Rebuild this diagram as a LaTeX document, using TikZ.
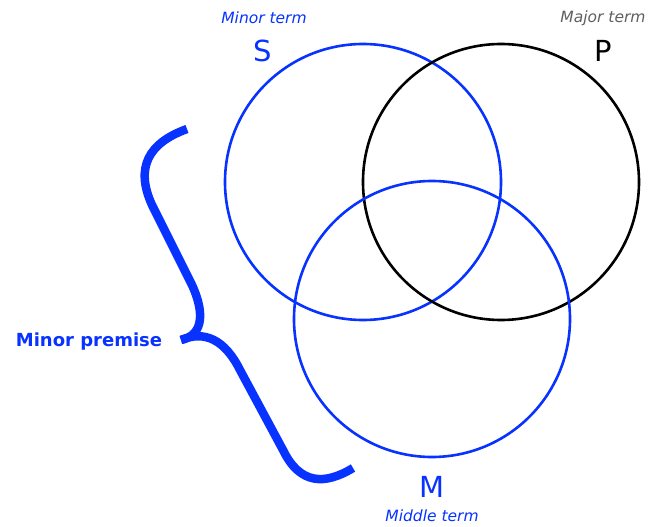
\documentclass[tikz,border=0pt]{standalone}
\usepackage{fontspec}
\setmainfont{DejaVu Sans}
\definecolor{vennblue}{RGB}{8,50,255}
\definecolor{termgray}{RGB}{95,95,95}
\usetikzlibrary{positioning}
\tikzset{
  setcircle/.style={circle, draw, line width=2.6pt, inner sep=0pt, minimum size=276pt},
  termlabel/.style={font=\itshape\fontsize{15.5}{18}\selectfont},
  letterlabel/.style={font=\fontsize{29}{34}\selectfont}
}

\begin{document}
\begin{tikzpicture}[x=1pt, y=-1pt]
    \useasboundingbox (0,0) rectangle (649,527);

    % Circles
    \node[setcircle, vennblue] (S) at (363,182) {};
    \node[setcircle, black] (P) at (501,182) {};
    \node[setcircle, vennblue] (M) at (432,319) {};

    % Terms
    \node[termlabel, vennblue] (minorterm) at (264,18) {Minor term};
    \node[letterlabel, vennblue] (letterS) at (263,51) {S};
    \node[termlabel, termgray] (majorterm) at (603,18) {Major term};
    \node[letterlabel, black] (letterP) at (603,51) {P};
    \node[letterlabel, vennblue] (letterM) at (432,487) {M};
    \node[termlabel, vennblue] (middleterm) at (432,516) {Middle term};

    % Brace
    \draw[vennblue, line width=8.5pt] (187,129) .. controls (148,143) and (135,168) .. (152,205)
        -- (192,285) .. controls (207,318) and (200,336) .. (181,340);
    \draw[vennblue, line width=8.5pt] (181,340) .. controls (205,330) and (225,340) .. (240,370)
        -- (283,450) .. controls (300,485) and (325,485) .. (353,468);
    \node[font=\bfseries\fontsize{18}{22}\selectfont, vennblue] (premise) at (89,342) {Minor premise};
\end{tikzpicture}
\end{document}
